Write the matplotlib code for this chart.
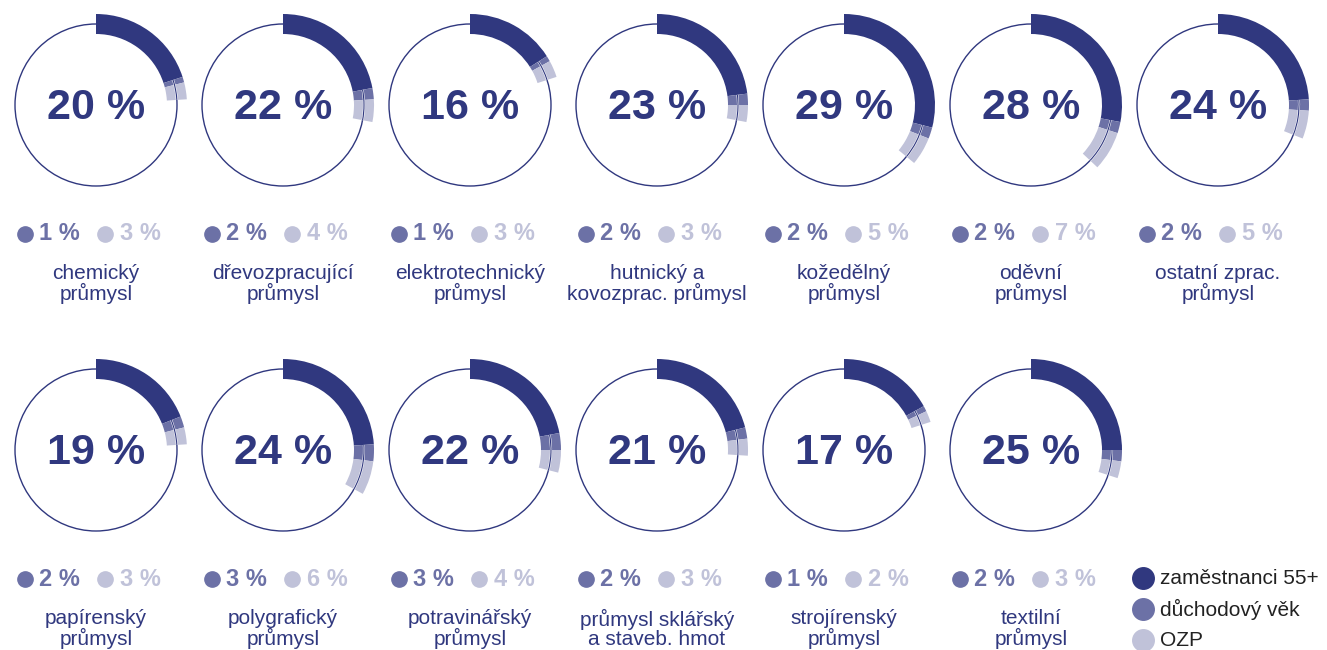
import matplotlib.pyplot as plt
from matplotlib.patches import Wedge, Circle, Arc
import matplotlib.patheffects as pe

plt.rcParams['font.family'] = ['Liberation Sans', 'DejaVu Sans']

labels = ['chemický\nprůmysl', 'dřevozpracující\nprůmysl', 'elektrotechnický\nprůmysl',
          'hutnický a\nkovozprac. průmysl', 'kožedělný\nprůmysl', 'oděvní\nprůmysl',
          'ostatní zprac.\nprůmysl',
          'papírenský\nprůmysl', 'polygrafický\nprůmysl', 'potravinářský\nprůmysl',
          'průmysl sklářský\na staveb. hmot', 'strojírenský\nprůmysl', 'textilní\nprůmysl']
over55 = [20, 22, 16, 23, 29, 28, 24, 19, 24, 22, 21, 17, 25]
retire = [1, 2, 1, 2, 2, 2, 2, 2, 3, 3, 2, 1, 2]
ozp = [3, 4, 3, 3, 5, 7, 5, 3, 6, 4, 3, 2, 3]
legend_labels = ['zaměstnanci 55+', 'důchodový věk', 'OZP']

NAVY = '#30387f'
MID = '#6c71a6'
LIGHT = '#c0c2d9'

fig = plt.figure(figsize=(13.27, 6.5), dpi=100)
ax = fig.add_axes([0, 0, 1, 1])
ax.set_xlim(0, 1327)
ax.set_ylim(650, 0)
ax.set_aspect('equal')
ax.axis('off')

R = 81      # outline radius
RO = 91     # band outer radius
W = 20      # band width


def ang(p):
    # percent -> matplotlib angle (y axis inverted: clockwise from top)
    return -90 + p * 3.6


for i, lab in enumerate(labels):
    row, col = divmod(i, 7)
    cx = 96 + col * 187
    cy = 105 + row * 345

    ax.add_patch(Circle((cx, cy), R, fill=False, ec=NAVY, lw=1.0))
    a, b, c = over55[i], retire[i], ozp[i]
    ax.add_patch(Wedge((cx, cy), RO, ang(0), ang(a), width=W, fc=NAVY, ec='none'))
    ax.add_patch(Wedge((cx, cy), RO, ang(a), ang(a + b), width=W, fc=MID, ec='none'))
    ax.add_patch(Wedge((cx, cy), RO, ang(a + b), ang(a + b + c), width=W, fc=LIGHT, ec='none'))
    ax.add_patch(Arc((cx, cy), 2 * R, 2 * R, theta1=ang(a), theta2=ang(a + b + c),
                     ec=NAVY, lw=0.8,
                     path_effects=[pe.Stroke(linewidth=1.5, foreground='white'), pe.Normal()]))

    ax.text(cx, cy + 3, f'{a} %', ha='center', va='center', fontsize=31,
            fontweight='bold', color=NAVY)

    sy = cy + 129
    ax.plot(cx - 71, sy, 'o', ms=11, color=MID)
    ax.text(cx - 57, sy, f'{b} %', ha='left', va='center', fontsize=17,
            fontweight='bold', color=MID)
    ax.plot(cx + 9, sy, 'o', ms=11, color=LIGHT)
    ax.text(cx + 24, sy, f'{c} %', ha='left', va='center', fontsize=17,
            fontweight='bold', color=LIGHT)

    ax.text(cx, cy + 179, lab, ha='center', va='center', fontsize=15,
            color=NAVY, linespacing=0.95)

for k, (lab, col) in enumerate(zip(legend_labels, [NAVY, MID, LIGHT])):
    ly = 578 + k * 31
    ax.plot(1143, ly, 'o', ms=15.5, color=col)
    ax.text(1160, ly, lab, ha='left', va='center', fontsize=15, color='#222222')

fig.savefig('out.png', dpi=100)
